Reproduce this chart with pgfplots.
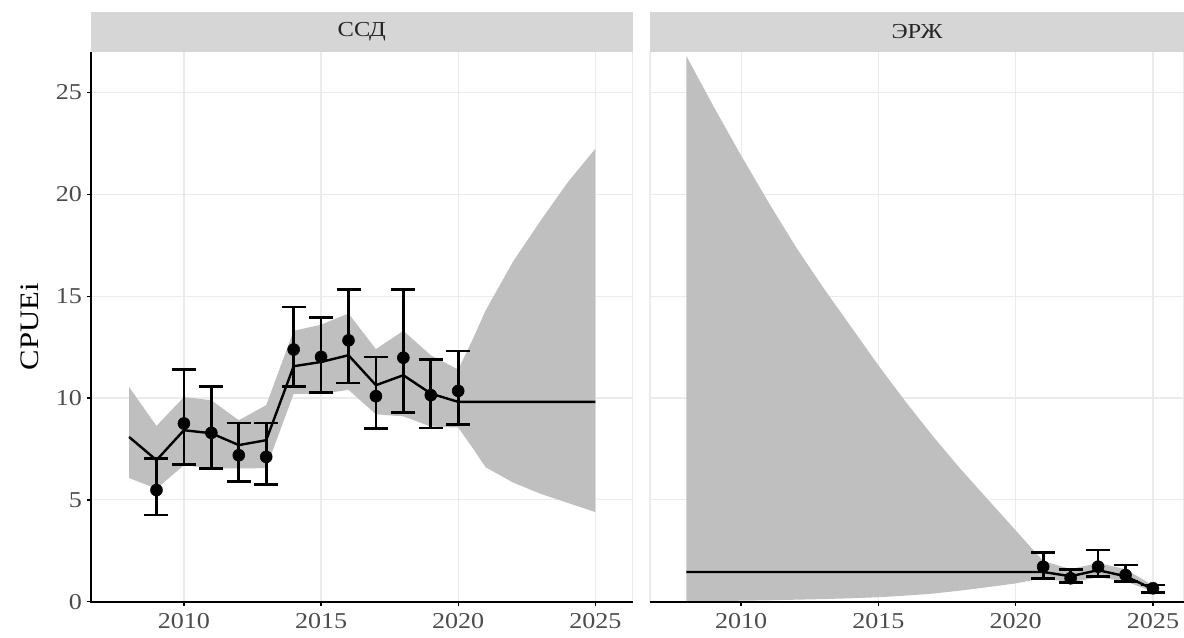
\documentclass[border=0pt]{standalone}
\usepackage{pgfplots}
\usepackage{pgfplotstable}
\pgfplotsset{compat=1.18}
\usepgfplotslibrary{fillbetween}
\usepackage{fontspec}
\setmainfont{Liberation Serif}[FakeStretch=1.15]
\definecolor{rib}{gray}{0.75}
\definecolor{stripbg}{gray}{0.84}
\definecolor{gridc}{gray}{0.92}
\definecolor{ticklab}{gray}{0.3}

\pgfplotstableread{
x up lo
2008 10.54 6.07
2009 8.63 5.55
2010 10.05 6.70
2011 9.89 6.55
2012 8.91 6.54
2013 9.65 6.56
2014 13.30 10.20
2015 13.60 10.20
2016 14.15 10.40
2017 12.40 9.20
2018 13.30 9.10
2019 12.10 8.60
2020 11.40 8.55
2020.5 12.80 7.60
2021 14.30 6.60
2022 16.70 5.85
2023 18.70 5.30
2024 20.60 4.85
2025 22.24 4.40
}\ribL

\pgfplotstableread{
x y
2008 8.09
2009 6.95
2010 8.42
2011 8.27
2012 7.69
2013 7.93
2014 11.56
2015 11.77
2016 12.10
2017 10.63
2018 11.12
2019 10.22
2020 9.81
2025 9.81
}\lineL

\pgfplotstableread{
x y lo hi
2009 5.48 4.25 7.03
2010 8.75 6.75 11.41
2011 8.29 6.54 10.58
2012 7.19 5.89 8.78
2013 7.11 5.77 8.78
2014 12.38 10.55 14.47
2015 12.02 10.27 13.95
2016 12.83 10.74 15.34
2017 10.09 8.50 12.02
2018 11.98 9.29 15.34
2019 10.14 8.53 11.89
2020 10.35 8.71 12.31
}\ptsL

\pgfplotstableread{
x up lo
2008 26.80 0.02
2009 24.30 0.03
2010 21.90 0.05
2011 19.60 0.07
2012 17.40 0.10
2013 15.40 0.13
2014 13.50 0.17
2015 11.60 0.22
2016 9.80 0.30
2017 8.10 0.40
2018 6.50 0.55
2019 5.00 0.72
2020 3.50 0.90
2021 2.00 1.15
2022 1.60 0.95
2023 1.90 1.20
2024 1.60 1.00
2025 0.80 0.50
}\ribR

\pgfplotstableread{
x y
2008 1.46
2021 1.46
2022 1.25
2023 1.55
2024 1.25
2025 0.62
}\lineR

\pgfplotstableread{
x y lo hi
2021 1.72 1.15 2.42
2022 1.15 0.93 1.59
2023 1.72 1.23 2.54
2024 1.31 0.98 1.80
2025 0.66 0.44 0.82
}\ptsR

\pgfplotsset{
  panel/.style={
    scale only axis, height=412.5pt,
    ymin=0, ymax=27,
    xtick={2010,2015,2020,2025}, ytick={0,5,10,15,20,25},
    grid=major, major grid style={draw=gridc, line width=0.9pt},
    axis line style={draw=gridc, line width=0.8pt},
    tick align=outside, major tick length=3pt,
    xtick pos=left, ytick pos=left,
    tick style={black, line width=1pt},
    ticklabel style={font=\fontsize{17}{17}\selectfont, text=ticklab},
    xticklabel style={yshift=-2pt},
    /pgf/number format/1000 sep={},
    /pgf/number format/assume math mode=true,
  },
  ribstyle/.style={fill=rib, draw=none},
  linestyle/.style={black, line width=1.8pt, no marks},
  ptstyle/.style={black, only marks, mark=*, mark size=4.5pt,
    error bars/.cd, y dir=both, y explicit,
    error bar style={line width=2pt},
    error mark options={rotate=90, line width=2pt, mark size=9pt}},
}

\begin{document}
\begin{tikzpicture}
\begin{axis}[panel, name=L, at={(0pt,0pt)}, anchor=south west,
  width=406.7pt, xmin=2006.6, xmax=2026.37]
  \addplot[name path=UL, draw=none] table[x=x, y=up] {\ribL};
  \addplot[name path=DL, draw=none] table[x=x, y=lo] {\ribL};
  \addplot[ribstyle] fill between[of=UL and DL];
  \addplot[linestyle] table[x=x, y=y] {\lineL};
  \addplot[ptstyle] table[x=x, y=y,
    y error plus expr=\thisrow{hi}-\thisrow{y},
    y error minus expr=\thisrow{y}-\thisrow{lo}] {\ptsL};
\end{axis}
\begin{axis}[panel, name=R, at={(419.5pt,0pt)}, anchor=south west,
  width=400.5pt, xmin=2006.68, xmax=2026.13,
  yticklabels={}, ytick style={draw=none}]
  \addplot[name path=UR, draw=none] table[x=x, y=up] {\ribR};
  \addplot[name path=DR, draw=none] table[x=x, y=lo] {\ribR};
  \addplot[ribstyle] fill between[of=UR and DR];
  \addplot[linestyle] table[x=x, y=y] {\lineR};
  \addplot[ptstyle] table[x=x, y=y,
    y error plus expr=\thisrow{hi}-\thisrow{y},
    y error minus expr=\thisrow{y}-\thisrow{lo}] {\ptsR};
\end{axis}
% black axis lines
\draw[black, line width=1.6pt] (L.north west) -- (L.south west) -- (L.south east);
\draw[black, line width=1.6pt] (R.south west) -- (R.south east);
% strips
\fill[stripbg] (L.north west) rectangle ([yshift=29.8pt]L.north east);
\fill[stripbg] (R.north west) rectangle ([yshift=29.8pt]R.north east);
\node[font=\fontsize{16}{16}\selectfont, text=black!85] at ([yshift=14.9pt]L.north) {ССД};
\node[font=\fontsize{16}{16}\selectfont, text=black!85] at ([yshift=14.9pt]R.north) {ЭРЖ};
% y label
\node[rotate=90, font=\fontsize{20}{20}\selectfont, text=black] at (-45.5pt,206.25pt) {CPUEi};
% bounding box
\pgfresetboundingbox
\useasboundingbox (-68pt,-26.5pt) rectangle (820pt,451.3pt);
\end{tikzpicture}
\end{document}
